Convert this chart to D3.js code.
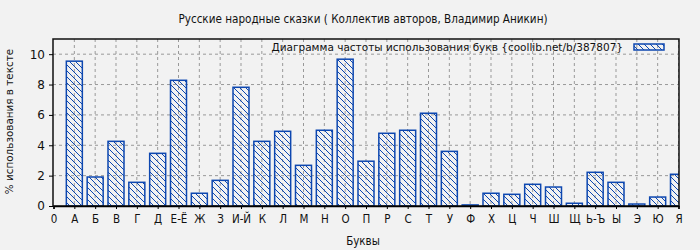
<!DOCTYPE html>
<html lang="ru">
<head>
    <meta charset="UTF-8">
    <title>Частота букв</title>
    <script src="https://d3js.org/d3.v7.min.js"></script>
    <style>
        body { margin: 0; background: #f2f2f2; }
        text { font-family: "DejaVu Sans", sans-serif; fill: #111; }
        .cond { font-family: "DejaVu Sans Condensed", "DejaVu Sans", sans-serif; }
    </style>
</head>
<body>
    <div id="chart"></div>
    <script>
        // Tick labels along x (first one is the "0" slot without a bar)
        const tickLabels = ["0", "А", "Б", "В", "Г", "Д", "Е-Ё", "Ж", "З", "И-Й", "К", "Л", "М", "Н", "О",
            "П", "Р", "С", "Т", "У", "Ф", "Х", "Ц", "Ч", "Ш", "Щ", "Ь-Ъ", "Ы", "Э", "Ю", "Я"];
        // Letters with bars
        const letters = tickLabels.slice(1);
        // % usage in text
        const values = [9.54, 1.91, 4.26, 1.56, 3.47, 8.28, 0.84, 1.69, 7.82, 4.26, 4.92, 2.68, 4.99, 9.67,
            2.95, 4.79, 4.99, 6.11, 3.6, 0.07, 0.84, 0.77, 1.43, 1.25, 0.18, 2.22, 1.56, 0.13, 0.59, 2.09];
        const yTicks = [0, 2, 4, 6, 8, 10];

        const W = 700, H = 250;
        const margin = {top: 39, right: 21, bottom: 44, left: 53};
        const width = W - margin.left - margin.right;
        const height = H - margin.top - margin.bottom;
        const blue = "#0d47b0";

        const svg = d3.select("#chart").append("svg")
            .attr("width", W).attr("height", H);

        const defs = svg.append("defs");
        const pat = defs.append("pattern")
            .attr("id", "hatch")
            .attr("patternUnits", "userSpaceOnUse")
            .attr("width", 6).attr("height", 6);
        pat.append("path")
            .attr("d", "M0,0 L6,6 M-1,5 L1,7 M5,-1 L7,1")
            .attr("stroke", blue).attr("stroke-width", 1);
        defs.append("clipPath").attr("id", "clip")
            .append("rect").attr("width", width).attr("height", height);

        const g = svg.append("g").attr("transform", `translate(${margin.left},${margin.top})`);

        const x = d3.scaleLinear().domain([0, tickLabels.length - 1]).range([0.5, width - 0.5]);
        const y = d3.scaleLinear().domain([0, 11]).range([height, 0]);
        const barW = 16;

        // grid
        g.append("g").selectAll("line").data(yTicks.slice(1)).join("line")
            .attr("x1", 0).attr("x2", width)
            .attr("y1", d => y(d)).attr("y2", d => y(d))
            .attr("stroke", "#999").attr("stroke-dasharray", "3,3");
        g.append("g").selectAll("line").data(d3.range(1, tickLabels.length)).join("line")
            .attr("x1", d => x(d)).attr("x2", d => x(d))
            .attr("y1", 0).attr("y2", height)
            .attr("stroke", "#999").attr("stroke-dasharray", "3,3");

        // bars
        g.append("g").attr("clip-path", "url(#clip)")
            .selectAll("rect").data(values).join("rect")
            .attr("x", (d, i) => x(i + 1) - barW / 2)
            .attr("y", d => y(d))
            .attr("width", barW)
            .attr("height", d => height - y(d))
            .attr("fill", "url(#hatch)")
            .attr("stroke", blue).attr("stroke-width", 1.5)
            .append("title").text((d, i) => `${letters[i]}: ${d}`);

        // frame
        g.append("rect").attr("width", width).attr("height", height)
            .attr("fill", "none").attr("stroke", "#111").attr("stroke-width", 1.5);

        // y axis
        const yAxis = g.append("g")
            .call(d3.axisLeft(y).tickValues(yTicks).tickSize(4).tickPadding(4));
        yAxis.select(".domain").remove();
        yAxis.selectAll("text").attr("font-size", 12).attr("fill", "#111");

        // x axis
        const xAxis = g.append("g").attr("transform", `translate(0,${height})`)
            .call(d3.axisBottom(x).tickValues(d3.range(tickLabels.length))
                .tickFormat(i => tickLabels[i]).tickSize(3).tickPadding(6));
        xAxis.select(".domain").attr("stroke-width", 1.5);
        xAxis.selectAll("text").attr("class", "cond").attr("font-size", 11.5).attr("fill", "#111");

        // titles
        svg.append("text").attr("class", "cond")
            .attr("x", 363).attr("y", 23).attr("text-anchor", "middle")
            .attr("font-size", 11.6)
            .text("Русские народные сказки ( Коллектив авторов, Владимир Аникин)");
        svg.append("text").attr("class", "cond")
            .attr("x", 363).attr("y", 245).attr("text-anchor", "middle")
            .attr("font-size", 11.5).text("Буквы");
        svg.append("text")
            .attr("transform", `translate(13,${margin.top + height / 2 - 1}) rotate(-90)`)
            .attr("text-anchor", "middle").attr("font-size", 10.4)
            .text("% использования в тексте");

        // legend
        svg.append("text")
            .attr("x", 623).attr("y", 51).attr("text-anchor", "end")
            .attr("font-size", 10.5)
            .text("Диаграмма частоты использования букв {coollib.net/b/387807}");
        svg.append("rect")
            .attr("x", 634).attr("y", 44).attr("width", 30).attr("height", 6)
            .attr("fill", "url(#hatch)").attr("stroke", blue).attr("stroke-width", 1.5);
    </script>
</body>
</html>
